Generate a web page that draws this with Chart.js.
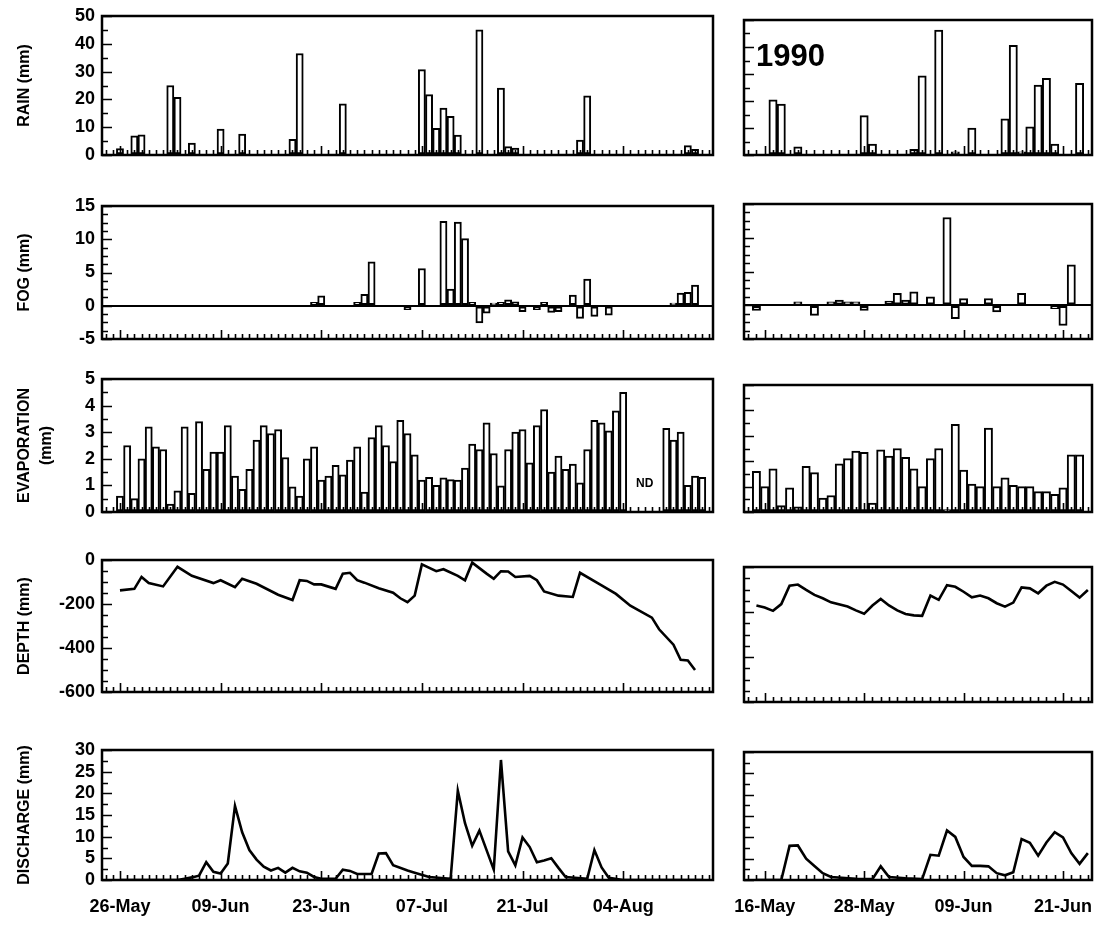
<!DOCTYPE html>
<html lang="en">
<head>
<meta charset="UTF-8">
<title>Rain, fog, evaporation, depth and discharge</title>
<script src="https://cdn.jsdelivr.net/npm/chart.js"></script>
<style>
  body { margin: 0; background: #fff; }
  #page { position: relative; width: 1099px; height: 926px; overflow: hidden; }
  .panel { position: absolute; }
</style>
</head>
<body>
<div id="page"></div>
<script>
// ---- days on the two x axes ----
const MONTHS = ['Jan','Feb','Mar','Apr','May','Jun','Jul','Aug','Sep','Oct','Nov','Dec'];
function dayLabels(month, day, n) {
  const out = [];
  for (let i = 0; i < n; i++) {
    const d = new Date(Date.UTC(1990, month, day + i));
    out.push(String(d.getUTCDate()).padStart(2, '0') + '-' + MONTHS[d.getUTCMonth()]);
  }
  return out;
}
const leftDays = dayLabels(4, 24, 85);   // 24-May .. 16-Aug
const rightDays = dayLabels(4, 14, 42);  // 14-May .. 24-Jun
const leftTickLabels = ['26-May', '09-Jun', '23-Jun', '07-Jul', '21-Jul', '04-Aug'];
const rightTickLabels = ['16-May', '28-May', '09-Jun', '21-Jun'];

// ---- left period (day index into leftDays) ----
const rainLeftDay = [2, 4, 5, 9, 10, 12, 16, 19, 26, 27, 33, 44, 45, 46, 47, 48, 49, 52, 55, 56, 57, 66, 67, 81, 82];
const rainLeftMm  = [2.3, 6.9, 7.3, 25, 20.7, 4.3, 9.3, 7.5, 5.6, 36.5, 18.4, 30.7, 21.7, 9.6, 16.9, 13.9, 7.2, 45, 24.1, 3, 2.5, 5.4, 21.3, 3.4, 2];

const fogLeftDay = [29, 30, 35, 36, 37, 42, 44, 47, 48, 49, 50, 51, 52, 53, 54, 55, 56, 57, 58, 60, 61, 62, 63, 65, 66, 67, 68, 70, 79, 80, 81, 82];
const fogLeftMm  = [0.5, 1.5, 0.5, 1.7, 6.6, -0.6, 5.6, 12.7, 2.5, 12.6, 10.1, 0.5, -2.6, -1.1, 0.4, 0.5, 0.9, 0.6, -0.9, -0.6, 0.5, -1.0, -0.9, 1.6, -1.9, 4.0, -1.6, -1.4, 0.4, 1.9, 2.0, 3.1];

// evaporation from 26-May (index 2); null = no data (ND)
const evapLeftStart = 2;
const evapLeftMm = [0.6, 2.5, 0.5, 2.0, 3.2, 2.45, 2.35, 0.3, 0.8, 3.2, 0.7, 3.4, 1.6, 2.25, 2.25, 3.25, 1.35, 0.85, 1.6, 2.7,
  3.25, 2.95, 3.1, 2.05, 0.95, 0.6, 2.0, 2.45, 1.2, 1.35, 1.75, 1.4, 1.95, 2.45, 0.75, 2.8, 3.25, 2.5, 1.9, 3.45,
  2.95, 2.15, 1.2, 1.3, 1.0, 1.28, 1.22, 1.2, 1.65, 2.55, 2.35, 3.35, 2.2, 0.98, 2.35, 3.0, 3.1, 1.85, 3.25, 3.85,
  1.5, 2.1, 1.6, 1.8, 1.1, 2.35, 3.45, 3.35, 3.05, 3.8, 4.5, null, null, null, null, null, 3.15, 2.7, 3.0, 1.0,
  1.35, 1.3];

const depthLeftDay = [2, 4, 5, 6, 8, 10, 12, 15, 16, 18, 19, 21, 24, 26, 27, 28, 29, 30, 32, 33, 34, 35, 36, 38, 40, 41, 42, 43,
  44, 46, 47, 49, 50, 51, 53, 54, 55, 56, 57, 59, 60, 61, 63, 65, 66, 69, 71, 73, 76, 77, 79, 80, 81, 82];
const depthLeftMm  = [-138, -131, -77, -105, -120, -31, -72, -105, -92, -123, -85, -108, -158, -182, -92, -95, -111, -111, -131, -62, -58, -92, -103, -128, -149, -174, -192, -162,
  -20, -51, -42, -72, -92, -12, -62, -85, -51, -52, -77, -72, -92, -143, -162, -168, -58, -115, -154, -208, -262, -315, -385, -454, -457, -500];

const dischLeftDay = [2, 10, 11, 12, 13, 14, 15, 16, 17, 18, 19, 20, 21, 22, 23, 24, 25, 26, 27, 28, 29, 30, 32, 33, 34, 35, 37, 38, 39, 40, 42, 43, 45, 48,
  49, 50, 51, 52, 53, 54, 55, 56, 57, 58, 59, 60, 61, 62, 63, 64, 67, 68, 69, 70, 72, 83];
const dischLeftMm  = [0, 0, 0.3, 0.6, 1.0, 4.1, 1.9, 1.5, 3.8, 17.1, 11, 6.9, 4.7, 3.1, 2.2, 2.8, 1.7, 2.8, 2.0, 1.7, 0.7, 0.3, 0.3, 2.4, 2.1, 1.4, 1.4, 6.1, 6.2, 3.4, 2.2, 1.7, 0.7, 0.3,
  20.6, 13.1, 7.9, 11.4, 6.9, 2.4, 27.7, 6.6, 3.4, 9.8, 7.6, 4.1, 4.5, 5.0, 2.8, 0.7, 0.3, 6.9, 2.9, 0.5, 0, 0];

// ---- right period, 1990 (day index into rightDays) ----
const rainRightDay = [3, 4, 6, 14, 15, 20, 21, 23, 25, 27, 31, 32, 33, 34, 35, 36, 37, 40];
const rainRightMm  = [20.4, 18.9, 3, 14.6, 4, 2.1, 29.3, 46.3, 1.2, 10, 13.4, 40.6, 1.2, 10.4, 25.9, 28.4, 4, 26.5];

const fogRightDay = [1, 6, 8, 10, 11, 12, 13, 14, 17, 18, 19, 20, 22, 24, 25, 26, 29, 30, 33, 37, 38, 39];
const fogRightMm  = [-0.75, 0.5, -1.5, 0.5, 0.75, 0.5, 0.5, -0.75, 0.6, 1.75, 0.75, 2.0, 1.25, 13, -2, 1.0, 1.0, -1.0, 1.75, -0.5, -3, 6];

const evapRightStart = 1;
const evapRightMm = [1.6, 1.0, 1.7, 0.25, 0.95, 0.2, 1.8, 1.55, 0.55, 0.65, 1.9, 2.1, 2.4, 2.35, 0.35, 2.45, 2.2, 2.5, 2.15, 1.7,
  1.0, 2.1, 2.5, 0.1, 3.45, 1.65, 1.1, 1.0, 3.3, 1.0, 1.35, 1.05, 1.0, 1.0, 0.8, 0.8, 0.7, 0.95, 2.25, 2.25];

const depthRightDay = [1, 2, 3, 4, 5, 6, 7, 8, 9, 10, 12, 13, 14, 15, 16, 17, 18, 19, 20, 21, 22, 23, 24, 25, 26, 27, 28, 29, 30, 31, 32, 33, 34, 35, 36, 37, 38, 39, 40, 41];
const depthRightMm  = [-171, -180, -195, -165, -83, -78, -102, -124, -139, -157, -176, -193, -208, -171, -142, -171, -193, -209, -215, -217,
  -127, -146, -81, -88, -110, -135, -127, -139, -161, -176, -158, -91, -95, -117, -83, -66, -78, -107, -136, -102];

const dischRightDay = [1, 4, 5, 6, 7, 8, 9, 10, 13, 15, 16, 17, 19, 21, 22, 23, 24, 25, 26, 27, 28, 29, 30, 31, 32, 33, 34, 35, 36, 37, 38, 39, 40, 41];
const dischRightMm  = [0, 0, 8.0, 8.1, 5, 3.3, 1.6, 0.7, 0.3, 0.2, 3.2, 0.7, 0.4, 0.2, 5.9, 5.7, 11.6, 10.1, 5.4, 3.3, 3.3, 3.2, 1.6, 1.1, 1.8, 9.6, 8.7, 5.7, 8.8, 11.2, 10, 6.3, 3.8, 6.3];

// ---- helpers ----
function byDay(n, days, vals) {
  const a = new Array(n).fill(null);
  days.forEach((d, k) => { a[d] = vals[k]; });
  return a;
}
function fromStart(n, start, vals) {
  const a = new Array(n).fill(null);
  vals.forEach((v, k) => { a[start + k] = v; });
  return a;
}

const FONT = '"Liberation Sans", Arial, Helvetica, sans-serif';

// frame, inward tick marks and little text notes
const frameTicks = {
  id: 'frameTicks',
  afterDraw(chart, args, o) {
    const { ctx, chartArea: a, scales: { x, y } } = chart;
    ctx.save();
    ctx.strokeStyle = '#000';
    ctx.lineWidth = 1.6;
    ctx.beginPath();
    x.getLabels().forEach((l, i) => {
      const px = Math.round(x.getPixelForValue(i)) + 0.5;
      const len = o.xMajor.includes(l) ? 9 : 5;
      ctx.moveTo(px, a.bottom); ctx.lineTo(px, a.bottom - len);
    });
    for (let v = y.min; v <= y.max + 1e-9; v += o.yStep) {
      const py = Math.round(y.getPixelForValue(v)) + 0.5;
      const r = Math.abs(v / o.yMajor - Math.round(v / o.yMajor));
      const len = r < 1e-6 ? 10 : 6;
      ctx.moveTo(a.left, py); ctx.lineTo(a.left + len, py);
    }
    ctx.stroke();
    ctx.lineWidth = 2.5;
    ctx.strokeRect(a.left, a.top, a.width, a.height);
    (o.notes || []).forEach(n => {
      ctx.font = n.font;
      ctx.fillStyle = '#000';
      ctx.textAlign = n.align || 'center';
      ctx.textBaseline = 'middle';
      const px = n.day !== undefined ? x.getPixelForValue(n.day) : a.left + n.dx;
      const py = n.value !== undefined ? y.getPixelForValue(n.value) : a.top + n.dy;
      ctx.fillText(n.text, px, py);
    });
    ctx.restore();
  }
};

function barSet(data) {
  return {
    type: 'bar', data, backgroundColor: '#fff', borderColor: '#000', borderWidth: 2,
    borderSkipped: false, categoryPercentage: 1, barPercentage: 1
  };
}
function lineSet(data) {
  return {
    type: 'line', data, borderColor: '#000', borderWidth: 2.6, pointRadius: 0,
    tension: 0, spanGaps: true, fill: false
  };
}

function panel(p) {
  const left = p.side === 'L';
  const cLeft = left ? 0 : 730;
  const cWidth = left ? 720 : 369;
  const yWidth = left ? 102 : 14;
  const padTop = 14;
  const padBottom = p.showX ? 44 : 14;
  const div = document.createElement('div');
  div.className = 'panel';
  div.style.left = cLeft + 'px';
  div.style.top = (p.top - padTop) + 'px';
  div.style.width = cWidth + 'px';
  div.style.height = (p.bottom - p.top + padTop + padBottom) + 'px';
  const cv = document.createElement('canvas');
  div.appendChild(cv);
  document.getElementById('page').appendChild(div);
  const days = left ? leftDays : rightDays;
  const shown = left ? leftTickLabels : rightTickLabels;

  new Chart(cv, {
    data: { labels: days, datasets: [p.kind === 'bar' ? barSet(p.data) : lineSet(p.data)] },
    options: {
      responsive: true, maintainAspectRatio: false, animation: false,
      layout: { padding: { top: padTop, bottom: p.showX ? 4 : padBottom, right: 7, left: 0 } },
      plugins: {
        legend: { display: false }, tooltip: { enabled: false },
        frameTicks: { xMajor: shown, yStep: p.tickStep, yMajor: p.tickMajor, notes: p.notes || [] }
      },
      scales: {
        x: {
          type: 'category', offset: true,
          grid: { display: false, drawTicks: false },
          border: { display: false },
          ticks: {
            display: !!p.showX, autoSkip: false, maxRotation: 0, minRotation: 0, padding: 16,
            color: '#000', font: { family: FONT, size: 18, weight: 'bold' },
            callback(v) { const l = this.getLabelForValue(v); return shown.includes(l) ? l : ''; }
          },
          afterFit(s) { s.height = p.showX ? 40 : 0; s.paddingLeft = 0; s.paddingRight = 0; }
        },
        y: {
          min: p.min, max: p.max,
          grid: {
            drawTicks: false, drawOnChartArea: !!p.zeroLine, lineWidth: 2,
            color: c => (p.zeroLine && c.tick.value === 0) ? '#000' : 'rgba(0,0,0,0)'
          },
          border: { display: false },
          ticks: {
            display: left, stepSize: p.step, autoSkip: false, padding: 7, color: '#000',
            font: { family: FONT, size: 18, weight: 'bold' }
          },
          title: {
            display: left && !!p.title, text: p.title, color: '#000',
            font: { family: FONT, size: 16, weight: 'bold', lineHeight: 1.35 },
            padding: { top: 14, bottom: 0 }
          },
          afterFit(s) { s.width = yWidth; s.paddingTop = 0; s.paddingBottom = 0; }
        }
      }
    },
    plugins: [frameTicks]
  });
}

const NL = leftDays.length, NR = rightDays.length;

// rain
panel({ side: 'L', top: 16, bottom: 155, kind: 'bar', data: byDay(NL, rainLeftDay, rainLeftMm),
  min: 0, max: 50, step: 10, tickStep: 5, tickMajor: 10, title: 'RAIN (mm)' });
panel({ side: 'R', top: 20, bottom: 155, kind: 'bar', data: byDay(NR, rainRightDay, rainRightMm),
  min: 0, max: 50, step: 10, tickStep: 5, tickMajor: 10,
  notes: [{ text: '1990', dx: 12, dy: 37, align: 'left', font: 'bold 31px ' + FONT }] });

// fog
panel({ side: 'L', top: 206, bottom: 339, kind: 'bar', data: byDay(NL, fogLeftDay, fogLeftMm), zeroLine: true,
  min: -5, max: 15, step: 5, tickStep: 1.25, tickMajor: 5, title: 'FOG (mm)' });
panel({ side: 'R', top: 204, bottom: 339, kind: 'bar', data: byDay(NR, fogRightDay, fogRightMm), zeroLine: true,
  min: -5, max: 15, step: 5, tickStep: 1.25, tickMajor: 5 });

// evaporation
panel({ side: 'L', top: 379, bottom: 512, kind: 'bar', data: fromStart(NL, evapLeftStart, evapLeftMm),
  min: 0, max: 5, step: 1, tickStep: 0.5, tickMajor: 1, title: ['EVAPORATION', '(mm)'],
  notes: [{ text: 'ND', day: 75, value: 1.05, font: 'bold 12px ' + FONT }] });
panel({ side: 'R', top: 385, bottom: 512, kind: 'bar', data: fromStart(NR, evapRightStart, evapRightMm),
  min: 0, max: 5, step: 1, tickStep: 0.5, tickMajor: 1 });

// depth
panel({ side: 'L', top: 560, bottom: 692, kind: 'line', data: byDay(NL, depthLeftDay, depthLeftMm),
  min: -600, max: 0, step: 200, tickStep: 50, tickMajor: 200, title: 'DEPTH (mm)' });
panel({ side: 'R', top: 567, bottom: 702, kind: 'line', data: byDay(NR, depthRightDay, depthRightMm),
  min: -600, max: 0, step: 200, tickStep: 50, tickMajor: 200 });

// discharge
panel({ side: 'L', top: 750, bottom: 880, kind: 'line', data: byDay(NL, dischLeftDay, dischLeftMm), showX: true,
  min: 0, max: 30, step: 5, tickStep: 2.5, tickMajor: 5, title: 'DISCHARGE (mm)' });
panel({ side: 'R', top: 752, bottom: 880, kind: 'line', data: byDay(NR, dischRightDay, dischRightMm), showX: true,
  min: 0, max: 30, step: 5, tickStep: 2.5, tickMajor: 5 });
</script>
</body>
</html>
